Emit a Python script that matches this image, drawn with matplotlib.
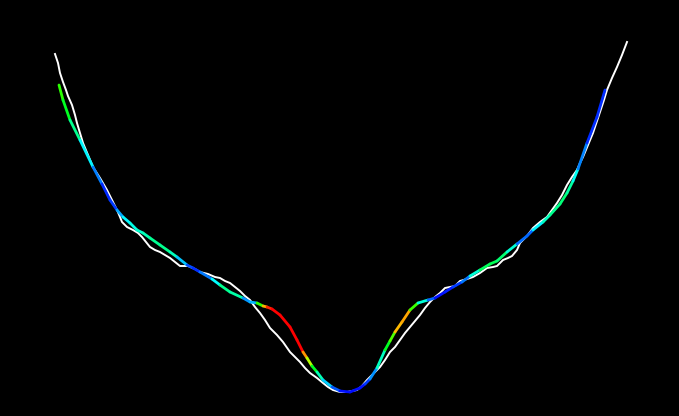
import numpy as np
import matplotlib
matplotlib.use("Agg")
import matplotlib.pyplot as plt
from matplotlib.collections import LineCollection
from matplotlib.colors import LinearSegmentedColormap

# Noisy observed curve (x, depth)
obs_x = [55, 58, 60, 63, 66, 68, 72, 75, 77, 80, 83, 88, 93, 100, 107, 112, 117, 120, 122, 127,
         133, 138, 142, 146, 150, 155, 160, 165, 170, 175, 180, 188, 195, 200, 208, 215, 220, 225,
         230, 235, 240, 245, 250, 255, 260, 265, 270, 277, 283, 290, 295, 300, 305, 310, 317, 323,
         328, 333, 340, 347, 352, 357, 362, 367, 373, 380, 385, 390, 395, 400, 405, 410, 415, 420,
         425, 430, 435, 440, 445, 450, 455, 460, 467, 473, 480, 487, 493, 497, 503, 508, 512, 517,
         520, 527, 533, 540, 547, 552, 557, 562, 567, 572, 577, 580, 583, 588, 593, 597, 600, 604,
         607, 612, 617, 622, 627]
obs_y = [54, 63, 73, 82, 90, 96, 105, 115, 123, 133, 143, 155, 167, 178, 190, 200, 210, 217, 222, 227,
         230, 233, 237, 242, 247, 250, 252, 255, 258, 262, 266, 266, 269, 272, 274, 277, 278, 281,
         283, 287, 291, 296, 300, 307, 313, 320, 328, 335, 342, 352, 357, 362, 368, 373, 378, 383,
         387, 390, 392, 392, 391, 390, 386, 380, 374, 367, 360, 352, 347, 340, 333, 327, 321, 315,
         308, 302, 297, 293, 288, 287, 286, 281, 279, 277, 273, 268, 267, 266, 260, 258, 256, 250,
         243, 236, 228, 222, 217, 210, 203, 195, 185, 177, 170, 163, 157, 145, 133, 121, 112, 100,
         90, 78, 67, 55, 42]

# Smooth fitted curve and its colour value (0 = blue ... 1 = red)
fit_x = [59, 63, 70, 80, 93, 102, 110, 117, 123, 130, 137, 143, 150, 160, 170, 177, 187, 193, 200,
         212, 220, 230, 243, 250, 257, 263, 267, 272, 280, 290, 297, 303, 307, 312, 317, 323, 332,
         340, 350, 360, 365, 370, 377, 385, 390, 395, 402, 410, 418, 428, 435, 445, 453, 462, 470,
         480, 490, 497, 507, 517, 527, 533, 543, 550, 560, 567, 573, 578, 587, 597, 605]
fit_y = [85, 100, 120, 140, 167, 184, 200, 210, 217, 223, 230, 233, 238, 245, 252, 257, 265, 268, 272,
         279, 285, 292, 298, 302, 303, 306, 307, 309, 315, 327, 340, 352, 358, 366, 372, 380, 387,
         391, 392, 388, 384, 379, 368, 350, 341, 332, 322, 310, 303, 300, 298, 292, 287, 282, 276,
         270, 264, 261, 252, 244, 236, 230, 222, 215, 204, 193, 181, 169, 143, 117, 90]
fit_c = [0.56, 0.52, 0.48, 0.40, 0.28, 0.18, 0.08, 0.22, 0.32, 0.36, 0.38, 0.40, 0.42, 0.45, 0.43, 0.38,
         0.22, 0.12, 0.15, 0.30, 0.40, 0.48, 0.36, 0.15, 0.42, 0.66, 0.80, 0.90, 0.95, 0.96, 0.93, 0.84,
         0.68, 0.54, 0.46, 0.36, 0.25, 0.12, 0.08, 0.08, 0.12, 0.18, 0.32, 0.48, 0.52, 0.60, 0.84, 0.64,
         0.46, 0.30, 0.10, 0.08, 0.15, 0.15, 0.30, 0.46, 0.48, 0.47, 0.45, 0.32, 0.10, 0.30, 0.38, 0.42,
         0.46, 0.45, 0.40, 0.32, 0.15, 0.12, 0.15]

cmap = LinearSegmentedColormap.from_list(
    "hue", [(0.0, "#0000ff"), (0.1, "#0010ff"), (0.25, "#0090ff"), (0.35, "#00ffff"),
            (0.45, "#00ff80"), (0.52, "#00ff00"), (0.65, "#ffff00"), (0.78, "#ff8000"),
            (0.88, "#ff0000"), (1.0, "#ff0000")])

fig = plt.figure(figsize=(6.79, 4.16), dpi=100, facecolor="black")
ax = fig.add_axes([0, 0, 1, 1])
ax.set_facecolor("black")
ax.set_xlim(0, 679)
ax.set_ylim(416, 0)
ax.axis("off")

ax.plot(obs_x, obs_y, color="white", lw=1.4, zorder=2)

pts = np.column_stack([fit_x, fit_y])
segs = np.stack([pts[:-1], pts[1:]], axis=1)
cvals = (np.array(fit_c[:-1]) + np.array(fit_c[1:])) / 2
lc = LineCollection(segs, cmap=cmap, norm=plt.Normalize(0, 1), linewidths=2.0,
                    capstyle="round", zorder=3)
lc.set_array(cvals)
ax.add_collection(lc)

fig.savefig("out.png", dpi=100, facecolor="black")
